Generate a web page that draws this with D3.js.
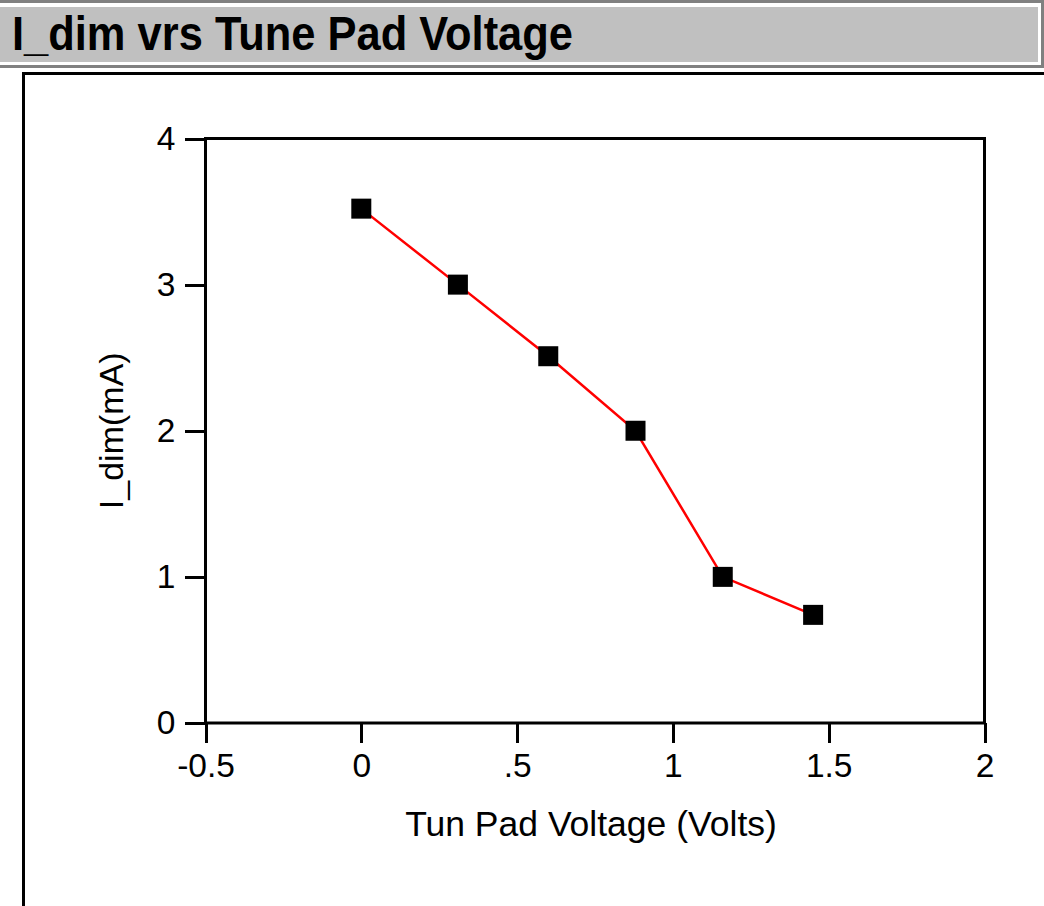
<!DOCTYPE html>
<html>
<head>
<meta charset="utf-8">
<script src="https://cdn.jsdelivr.net/npm/d3@7"></script>
<style>
html,body{margin:0;padding:0;background:#fff;}
svg{display:block;}
text{font-family:"Liberation Sans",Arial,sans-serif;fill:#000;}
</style>
</head>
<body>
<script>
const titleText = "I_dim vrs Tune Pad Voltage";
const xLabel = "Tun Pad Voltage (Volts)";
const yLabel = "I_dim(mA)";
const voltage = [0.0, 0.31, 0.60, 0.88, 1.16, 1.45];
const iDim = [3.52, 3.00, 2.51, 2.00, 1.00, 0.74];
const xTicks = [-0.5, 0, 0.5, 1, 1.5, 2];
const xTickLabels = ["-0.5", "0", ".5", "1", "1.5", "2"];
const yTicks = [0, 1, 2, 3, 4];
const yTickLabels = ["0", "1", "2", "3", "4"];

const W = 1044, H = 906;
const svg = d3.select("body").append("svg").attr("width", W).attr("height", H);

// title bar
svg.append("rect").attr("x",0).attr("y",0).attr("width",1044).attr("height",68).attr("fill","#808080");
svg.append("rect").attr("x",0).attr("y",3).attr("width",1041).attr("height",62).attr("fill","#ffffff");
svg.append("rect").attr("x",0).attr("y",7).attr("width",1038).attr("height",55).attr("fill","#c0c0c0");
svg.append("text").attr("x",12).attr("y",50)
  .attr("font-size",49).attr("font-weight","bold")
  .attr("textLength",561).attr("lengthAdjust","spacingAndGlyphs")
  .text(titleText);

// window border lines
svg.append("rect").attr("x",22).attr("y",72).attr("width",1022).attr("height",3).attr("fill","#000");
svg.append("rect").attr("x",22).attr("y",72).attr("width",3).attr("height",834).attr("fill","#000");

const x = d3.scaleLinear().domain([-0.5, 2]).range([205.5, 984.5]);
const y = d3.scaleLinear().domain([0, 4]).range([723, 138.5]);

// axes
const xAxis = d3.axisBottom(x).tickValues(xTicks)
  .tickFormat((d,i)=>xTickLabels[i]).tickSize(20).tickSizeOuter(0).tickPadding(10);
const gx = svg.append("g").attr("transform","translate(0,723)").call(xAxis);
const yAxis = d3.axisLeft(y).tickValues(yTicks)
  .tickFormat((d,i)=>yTickLabels[i]).tickSize(21).tickSizeOuter(0).tickPadding(9);
const gy = svg.append("g").attr("transform","translate(205.5,0)").call(yAxis);
[gx, gy].forEach(g=>{
  g.select(".domain").remove();
  g.selectAll(".tick line").attr("stroke","#000").attr("stroke-width",3).attr("shape-rendering","crispEdges");
  g.selectAll(".tick text").attr("font-size",33.5).attr("font-family","'Liberation Sans',Arial,sans-serif").attr("fill","#000");
});

// frame
svg.append("rect").attr("x",x(-0.5)).attr("y",y(4))
  .attr("width",x(2)-x(-0.5)).attr("height",y(0)-y(4))
  .attr("fill","none").attr("stroke","#000").attr("stroke-width",3);

// labels
svg.append("text").attr("x",591).attr("y",836)
  .attr("text-anchor","middle").attr("font-size",35.5).text(xLabel);
svg.append("text").attr("transform",`translate(123,${(y(0)+y(4))/2}) rotate(-90)`)
  .attr("text-anchor","middle").attr("font-size",34).text(yLabel);

// data
const pts = voltage.map((v,i)=>[v, iDim[i]]);
svg.append("path").datum(pts)
  .attr("d", d3.line().x(d=>x(d[0])).y(d=>y(d[1])))
  .attr("fill","none").attr("stroke","#ff0000").attr("stroke-width",2.5);
svg.selectAll("rect.pt").data(pts).enter().append("rect").attr("class","pt")
  .attr("x",d=>x(d[0])-10).attr("y",d=>y(d[1])-10)
  .attr("width",20).attr("height",20).attr("fill","#000");
</script>
</body>
</html>
